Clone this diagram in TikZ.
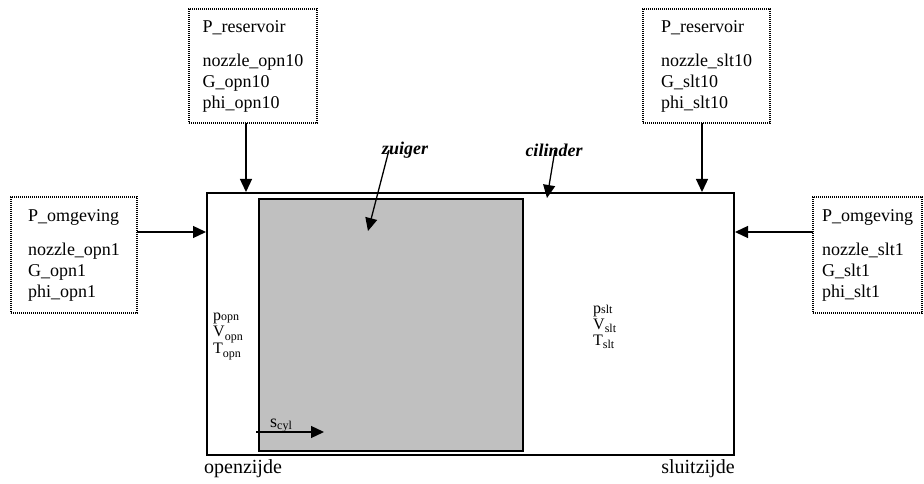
\documentclass[tikz,border=0pt]{standalone}
\usepackage{fontspec}
\setmainfont{Liberation Serif}
\usetikzlibrary{arrows.meta}

% subscripts of the state variables
\newcommand{\sbl}[2]{\raisebox{#1}{\fontsize{12}{12}\selectfont #2}}

\tikzset{
  parbox/.style={draw, line width=1.3pt, dash pattern=on 1.3pt off 0.7pt,
    align=left, inner sep=0pt, font=\fontsize{18}{21}\selectfont},
  arr/.style={line width=1.3pt, -{Triangle[length=13pt,width=12pt]}},
  wall/.style={draw, line width=2pt, inner sep=0pt},
  piston/.style={draw, line width=1.2pt, fill={rgb,255:red,192;green,192;blue,192}, inner sep=0pt},
  lbl/.style={font=\fontsize{20}{22}\selectfont, inner sep=0pt},
  tag/.style={font=\fontsize{18}{21}\selectfont\itshape\bfseries, inner sep=0pt},
  state/.style={font=\fontsize{16}{16}\selectfont, inner sep=0pt, anchor=base west}
}

\begin{document}
\begin{tikzpicture}[x=1pt, y=-1pt]
  \useasboundingbox (0,0) rectangle (924,484);

  % cylinder and piston
  \node[wall, minimum width=527pt, minimum height=262pt] (cyl) at (470.5,324) {};
  \node[piston, minimum width=264pt, minimum height=252pt] (pist) at (391,325) {};

  % parameter boxes
  \node[parbox, minimum width=128pt, minimum height=114pt] (resL) at (253,66)
    {P\_reservoir\\[13pt]nozzle\_opn10\\G\_opn10\\phi\_opn10};
  \node[parbox, minimum width=127pt, minimum height=114pt] (resR) at (706.5,66)
    {P\_reservoir\\[13pt]nozzle\_slt10\\G\_slt10\\phi\_slt10\hspace{10pt}};
  \node[parbox, minimum width=126pt, minimum height=116pt] (omgL) at (74,255)
    {P\_omgeving\\[13pt]nozzle\_opn1\\G\_opn1\\phi\_opn1};
  \node[parbox, minimum width=109pt, minimum height=116pt] (omgR) at (867.5,255)
    {P\_omgeving\\[13pt]nozzle\_slt1\\G\_slt1\\phi\_slt1};

  % inflow arrows
  \coordinate (rl) at (246,123);
  \coordinate (rr) at (702,123);
  \coordinate (ol) at (137,232);
  \coordinate (or) at (813,232);
  \draw[arr] (rl) -- (rl |- cyl.north);
  \draw[arr] (rr) -- (rr |- cyl.north);
  \draw[arr] (ol) -- (ol -| cyl.west);
  \draw[arr] (or) -- (or -| cyl.east);

  % part labels
  \node[tag] (zl) at (405,150) {zuiger};
  \node[tag] (cl) at (554,150) {cilinder};
  \coordinate (ztip) at (368,231);
  \coordinate (ctip) at (547,198);
  \draw[arr] ([xshift=-16pt]zl.center) -- (ztip);
  \draw[arr] ([xshift=1pt]cl.center) -- (ctip);

  % gas state in the open-side chamber
  \node[state] (pL) at (213,320) {p\sbl{0pt}{opn}};
  \node[state] (vL) at (213,336) {V\sbl{-4pt}{opn}};
  \node[state] (tL) at (213,353) {T\sbl{-4pt}{opn}};
  % gas state in the closing-side chamber
  \node[state] (pR) at (593,313) {p\sbl{0pt}{slt}};
  \node[state] (vR) at (593,329) {V\sbl{-3pt}{slt}};
  \node[state] (tR) at (593,345) {T\sbl{-3pt}{slt}};

  % piston displacement
  \node[lbl, anchor=base west, font=\fontsize{18}{20}\selectfont] (sc) at (270,427)
    {s\sbl{-2pt}{cyl}};
  \coordinate (s0) at (256,432);
  \coordinate (s1) at (324,432);
  \draw[arr] (s0) -- (s1);

  % side names
  \node[lbl] (oz) at (243,469) {openzijde};
  \node[lbl] (sz) at (698,469) {sluitzijde};
\end{tikzpicture}
\end{document}
